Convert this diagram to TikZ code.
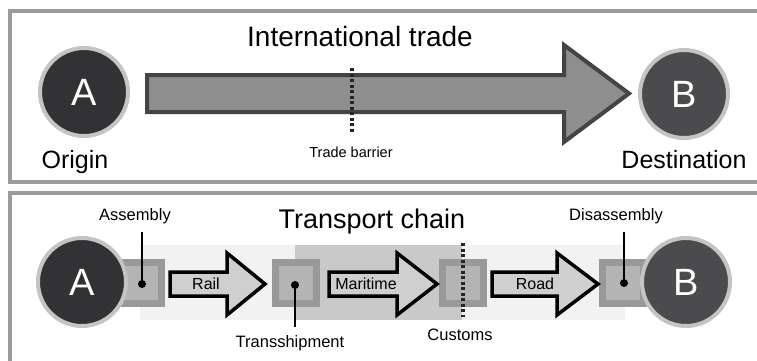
\documentclass[tikz,border=0pt]{standalone}
\usepackage{fontspec}
\setmainfont{Liberation Sans}
\definecolor{marco}{HTML}{9B9B9B}
\definecolor{anillo}{HTML}{C4C4C4}
\definecolor{oscuroA}{HTML}{323234}
\definecolor{oscuroB}{HTML}{4B4B4D}
\definecolor{flechagris}{HTML}{8E8E8E}
\definecolor{bordegris}{HTML}{444444}
\definecolor{flechaclara}{HTML}{CFCFCF}
\definecolor{cajaborde}{HTML}{999999}
\definecolor{cajafondo}{HTML}{B4B4B4}
\definecolor{fondoclaro}{HTML}{F2F2F2}
\definecolor{fondomedio}{HTML}{C9C9C9}
\begin{document}
\begin{tikzpicture}[x=1pt,y=-1pt,
    panel/.style={draw=marco,line width=4pt},
    ciudad/.style={circle,draw=anillo,line width=4pt,minimum size=88pt,inner sep=0pt,
      text=white,font=\fontsize{38}{40}\selectfont},
    caja/.style={rectangle,draw=cajaborde,fill=cajafondo,line width=7pt,minimum size=41pt,inner sep=0pt},
    flechagrande/.style={draw=bordegris,fill=flechagris,line width=4pt},
    flechachica/.style={draw=black,fill=flechaclara,line width=3.5pt},
    barrera/.style={draw=black!85,line width=3.5pt,dash pattern=on 3pt off 2.5pt},
    guia/.style={draw=black,line width=2.5pt},
    etiqueta/.style={anchor=base,inner sep=8pt,font=\fontsize{16.5}{18}\selectfont},
    modo/.style={font=\fontsize{16}{18}\selectfont,inner sep=0pt}]
    \useasboundingbox (0,0) rectangle (757,361);

    % Marcos
    \draw[panel] (757,11) -- (10,11) -- (10,182) -- (757,182);
    \draw[panel] (757,193) -- (10,193) -- (10,361);

    % Comercio internacional
    \node[anchor=base,font=\fontsize{28}{30}\selectfont] (titulo1) at (360,47) {International trade};
    \draw[flechagrande] (147,75) -- (564,75) -- (564,45) -- (629,93.5) -- (564,142)
        -- (564,112) -- (147,112) -- cycle;
    \node[ciudad,fill=oscuroA] (A1) at (84,92) {A};
    \node[ciudad,fill=oscuroB] (B1) at (684,94) {B};
    \node[anchor=base,font=\fontsize{25}{27}\selectfont] (origen) at (75,168) {Origin};
    \node[anchor=base,font=\fontsize{25}{27}\selectfont] (destino) at (684,168) {Destination};
    \coordinate (b1) at (352,68);
    \coordinate (b2) at (352,132);
    \draw[barrera] (b1) -- (b2);
    \node[anchor=base,font=\fontsize{14.5}{16}\selectfont] (barr) at (351,157) {Trade barrier};

    % Cadena de transporte
    \node[anchor=base,font=\fontsize{27}{29}\selectfont] (titulo2) at (372,228) {Transport chain};
    \fill[fondoclaro] (140,245) rectangle (625,320);
    \fill[fondomedio] (295,245) rectangle (462,320);

    \node[caja] (s1) at (141,283) {};
    \node[caja] (s2) at (296,283) {};
    \node[caja] (s3) at (463,283) {};
    \node[caja] (s4) at (623,283) {};

    \node[ciudad,fill=oscuroA] (A2) at (82,282) {A};
    \node[ciudad,fill=oscuroB] (B2) at (686,282) {B};

    \draw[flechachica] (170,272) -- (227,272) -- (227,253) -- (265,284) -- (227,315)
        -- (227,296) -- (170,296) -- cycle;
    \draw[flechachica] (329,272) -- (397,272) -- (397,253) -- (437,284) -- (397,315)
        -- (397,296) -- (329,296) -- cycle;
    \draw[flechachica] (492,272) -- (557,272) -- (557,253) -- (598,284) -- (557,315)
        -- (557,296) -- (492,296) -- cycle;
    \node[modo] (rail) at (206,284) {Rail};
    \node[modo] (mar) at (366,284) {Maritime};
    \node[modo] (road) at (535,284) {Road};

    % Puntos y guias
    \node[etiqueta] (ensam) at (135,220) {Assembly};
    \node[etiqueta] (trans) at (290,347) {Transshipment};
    \node[etiqueta] (adu) at (460,340) {Customs};
    \node[etiqueta] (desen) at (616,220) {Disassembly};
    \coordinate (p1) at (142,284);
    \coordinate (p2) at (295,285);
    \coordinate (p4) at (624,283);
    \draw[guia] (p1) -- (p1 |- ensam.south);
    \draw[guia] (p2) -- (p2 |- trans.north);
    \draw[guia] (p4) -- (p4 |- desen.south);
    \fill (p1) circle (4pt);
    \fill (p2) circle (4pt);
    \fill (p4) circle (4pt);
    \coordinate (c1) at (463,243);
    \coordinate (c2) at (463,317);
    \draw[barrera] (c1) -- (c2);
\end{tikzpicture}
\end{document}
